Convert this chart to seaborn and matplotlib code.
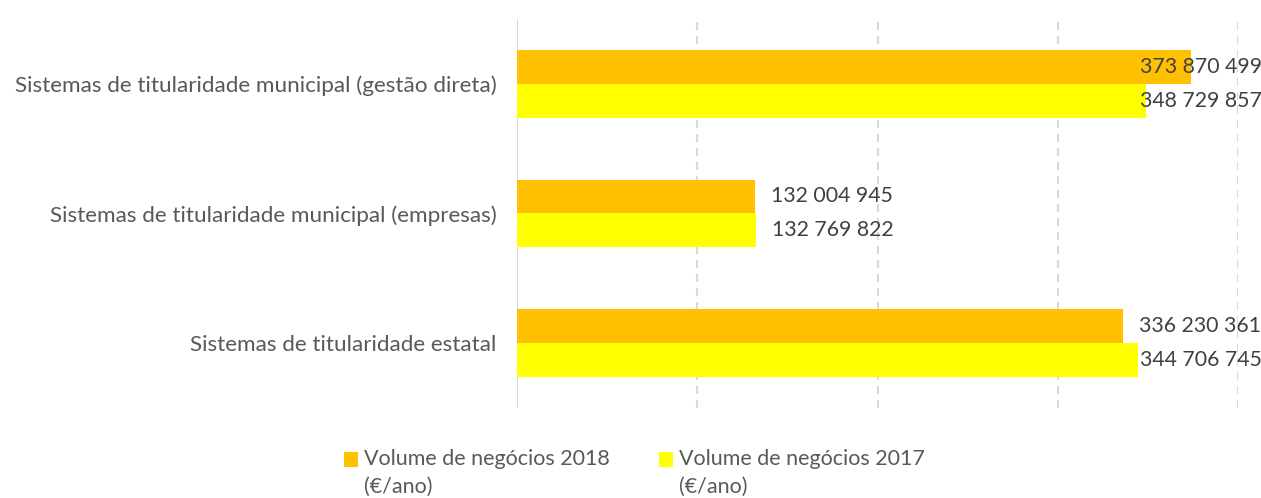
import pandas as pd
import matplotlib.pyplot as plt
import seaborn as sns
from matplotlib.patches import Patch, Rectangle
from matplotlib.legend_handler import HandlerPatch

# Data
categories = ['Sistemas de titularidade municipal (gestão direta)',
              'Sistemas de titularidade municipal (empresas)',
              'Sistemas de titularidade estatal']
volume_2018 = [373870499, 132004945, 336230361]
volume_2017 = [348729857, 132769822, 344706745]
series_names = ['Volume de negócios 2018\n(€/ano)', 'Volume de negócios 2017\n(€/ano)']
colors = ['#FFC000', '#FFFF00']

df = pd.DataFrame({
    'Categoria': categories * 2,
    'Valor': volume_2018 + volume_2017,
    'Serie': [series_names[0]] * 3 + [series_names[1]] * 3,
})


class TopSquare(HandlerPatch):
    # put the legend square next to the first line of a two-line label
    def create_artists(self, legend, orig_handle, xdescent, ydescent,
                       width, height, fontsize, trans):
        p = Rectangle((-xdescent, -ydescent + 10), width, height,
                      facecolor=orig_handle.get_facecolor(), edgecolor='none')
        p.set_transform(trans)
        return [p]


sns.set_style('white')
plt.rcParams['font.family'] = ['Lato', 'DejaVu Sans']
fs = 15.5

fig = plt.figure(figsize=(12.61, 4.98), dpi=100)
ax = fig.add_axes([0.410, 0.181, 0.5718, 0.7808])

sns.barplot(data=df, y='Categoria', x='Valor', hue='Serie', order=categories,
            hue_order=series_names, palette=colors, width=0.523, orient='h',
            saturation=1, linewidth=0, ax=ax, legend=False)

ax.set_xlim(0, 400e6)
ax.set_xticks([0, 100e6, 200e6, 300e6, 400e6])
ax.set_xticklabels([])
ax.tick_params(axis='both', length=0)
ax.set_xlabel('')
ax.set_ylabel('')
for t in ax.get_yticklabels():
    t.set_fontsize(16.2)
    t.set_color('#595959')
ax.tick_params(axis='y', pad=14.5)

# gridlines: solid at zero, dashed elsewhere
for xv in ax.get_xticks():
    if xv == 0:
        ax.axvline(xv, color='#D9D9D9', lw=1.5, zorder=0)
    else:
        ax.axvline(xv, color='#D9D9D9', lw=1.5, ls=(0, (3.84, 2.88)), zorder=0)

for s in ax.spines.values():
    s.set_visible(False)

# value labels, pushed left when they would run past the plot
clamp = 345.6e6
for cont, vals in zip(ax.containers, [volume_2018, volume_2017]):
    for bar, v in zip(cont, vals):
        x = min(v + 8.9e6, clamp)
        y = bar.get_y() + bar.get_height() / 2
        ax.text(x, y, f'{v:,}'.replace(',', ' '), va='center', ha='left',
                fontsize=15.3, color='#404040')

handles = [Patch(facecolor=c, edgecolor='none') for c in colors]
leg = fig.legend(handles, series_names, loc='upper left', bbox_to_anchor=(0.266, 0.115),
                 ncol=2, frameon=False, fontsize=fs, labelcolor='#595959',
                 handlelength=0.65, handleheight=0.65, handletextpad=0.28,
                 columnspacing=2.3, borderaxespad=0,
                 handler_map={Patch: TopSquare()})
for t in leg.get_texts():
    t.set_linespacing(1.45)

fig.savefig('out.png', dpi=100)
